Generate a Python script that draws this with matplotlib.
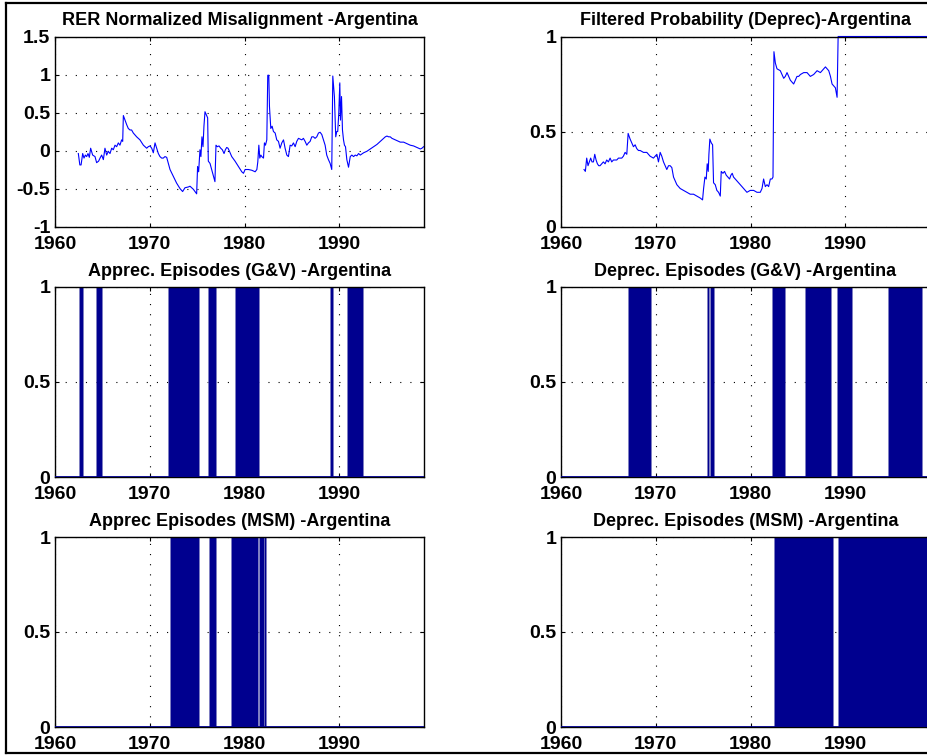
import matplotlib
matplotlib.use("Agg")
import matplotlib.pyplot as plt
from matplotlib.lines import Line2D

plt.rcParams['font.family'] = ['Liberation Sans', 'DejaVu Sans']
plt.rcParams['axes.unicode_minus'] = False
plt.rcParams['lines.scale_dashes'] = False

# ---------------- data ----------------
rer_years = [1962.46, 1962.62, 1962.75, 1962.92, 1963.06, 1963.20, 1963.34, 1963.48, 1963.62, 1963.76,
             1963.97, 1964.22, 1964.39, 1964.60, 1964.75, 1964.92, 1965.10, 1965.27, 1965.45, 1965.62,
             1965.80, 1965.98, 1966.15, 1966.33, 1966.50, 1966.68, 1966.85, 1967.03, 1967.14, 1967.21,
             1967.38, 1967.56, 1967.73, 1967.91, 1968.08, 1968.26, 1968.61, 1968.96, 1969.32, 1969.67,
             1969.84, 1970.02, 1970.20, 1970.37, 1970.55, 1970.72, 1970.90, 1971.07, 1971.25, 1971.42,
             1971.60, 1971.78, 1971.95, 1972.13, 1972.48, 1972.83, 1973.18, 1973.46, 1973.71, 1974.06,
             1974.24, 1974.41, 1974.59, 1974.76, 1974.94, 1975.04, 1975.15, 1975.29, 1975.39, 1975.50,
             1975.61, 1975.71, 1975.82, 1976.00, 1976.10, 1976.17, 1976.35, 1976.52, 1976.70, 1976.87,
             1976.98, 1977.12, 1977.30, 1977.48, 1977.65, 1977.83, 1977.97, 1978.11, 1978.25, 1978.40,
             1978.64, 1978.99, 1979.35, 1979.70, 1979.88, 1980.05, 1980.40, 1980.76, 1981.11, 1981.29,
             1981.39, 1981.50, 1981.60, 1981.71, 1981.81, 1981.99, 1982.09, 1982.20, 1982.34, 1982.44,
             1982.55, 1982.62, 1982.76, 1982.90, 1983.04, 1983.22, 1983.39, 1983.57, 1983.74, 1983.92,
             1984.10, 1984.27, 1984.45, 1984.62, 1984.80, 1984.97, 1985.15, 1985.33, 1985.50, 1985.68,
             1985.85, 1986.03, 1986.20, 1986.38, 1986.56, 1986.73, 1986.91, 1987.08, 1987.26, 1987.43,
             1987.61, 1987.79, 1987.96, 1988.14, 1988.31, 1988.49, 1988.66, 1988.84, 1989.02, 1989.19,
             1989.30, 1989.47, 1989.61, 1989.72, 1989.82, 1989.93, 1990.04, 1990.11, 1990.22, 1990.32,
             1990.43, 1990.53, 1990.64, 1990.78, 1990.96, 1991.14, 1991.31, 1991.49, 1991.67, 1991.84,
             1992.02, 1992.20, 1992.55, 1992.90, 1993.25, 1993.60, 1993.96, 1994.31, 1994.66, 1994.84,
             1995.01, 1995.19, 1995.36, 1995.54, 1995.71, 1996.07, 1996.42, 1996.77, 1997.12, 1997.47,
             1997.82, 1998.18, 1998.53, 1998.70, 1998.88]
rer_values = [-0.04, -0.19, -0.19, -0.04, -0.10, -0.06, -0.08, -0.04, -0.09, 0.03,
              -0.06, -0.08, -0.16, -0.14, -0.10, -0.06, -0.12, 0.03, -0.06, -0.01,
              -0.04, 0.03, 0.01, 0.07, 0.05, 0.10, 0.07, 0.14, 0.12, 0.46,
              0.40, 0.34, 0.29, 0.27, 0.27, 0.23, 0.18, 0.14, 0.07, 0.03,
              0.05, 0.06, 0.03, -0.03, 0.10, 0.03, -0.04, -0.08, -0.10, -0.10,
              -0.08, -0.09, -0.17, -0.25, -0.34, -0.43, -0.50, -0.54, -0.49, -0.48,
              -0.47, -0.49, -0.51, -0.54, -0.57, -0.21, -0.28, 0.01, -0.08, 0.18,
              0.05, 0.32, 0.51, 0.46, 0.43, -0.14, -0.17, -0.25, -0.34, -0.41,
              0.07, 0.05, 0.06, 0.03, 0.01, -0.04, 0.01, 0.04, 0.03, -0.01,
              -0.08, -0.14, -0.21, -0.28, -0.30, -0.25, -0.25, -0.26, -0.28, -0.25,
              -0.15, 0.07, -0.10, -0.06, -0.08, -0.10, 0.10, 0.07, 0.14, 0.99,
              0.99, 0.58, 0.29, 0.32, 0.25, 0.23, 0.14, 0.12, 0.03, 0.10,
              0.14, 0.03, -0.06, -0.08, 0.07, 0.06, 0.10, 0.05, 0.12, 0.16,
              0.15, 0.14, 0.16, 0.12, 0.07, 0.10, 0.12, 0.18, 0.18, 0.16,
              0.18, 0.23, 0.24, 0.21, 0.14, 0.07, -0.06, -0.12, -0.17, -0.25,
              0.98, 0.71, 0.18, 0.25, 0.25, 0.49, 0.89, 0.40, 0.71, 0.27,
              0.14, 0.07, 0.05, -0.12, -0.22, -0.08, -0.06, -0.08, -0.06, -0.07,
              -0.04, -0.06, -0.03, -0.01, 0.02, 0.05, 0.08, 0.12, 0.16, 0.18,
              0.19, 0.18, 0.18, 0.16, 0.15, 0.13, 0.11, 0.11, 0.09, 0.07,
              0.06, 0.04, 0.02, 0.03, 0.05]

prob_years = [1962.43, 1962.57, 1962.71, 1962.85, 1962.99, 1963.13, 1963.27, 1963.42, 1963.56, 1963.70,
              1963.84, 1963.98, 1964.12, 1964.30, 1964.47, 1964.65, 1964.82, 1965.00, 1965.18, 1965.35,
              1965.53, 1965.70, 1965.88, 1966.06, 1966.23, 1966.41, 1966.58, 1966.76, 1966.94, 1967.08,
              1967.29, 1967.46, 1967.64, 1967.82, 1967.99, 1968.17, 1968.35, 1968.70, 1969.05, 1969.40,
              1969.75, 1970.11, 1970.28, 1970.46, 1970.63, 1970.81, 1970.99, 1971.16, 1971.34, 1971.51,
              1971.69, 1971.87, 1972.22, 1972.57, 1972.92, 1973.27, 1973.63, 1973.98, 1974.33, 1974.68,
              1974.93, 1975.04, 1975.18, 1975.32, 1975.42, 1975.53, 1975.60, 1975.70, 1975.85, 1975.99,
              1976.09, 1976.27, 1976.44, 1976.62, 1976.80, 1976.90, 1977.08, 1977.25, 1977.43, 1977.61,
              1977.78, 1977.92, 1978.06, 1978.20, 1978.56, 1978.91, 1979.26, 1979.61, 1979.96, 1980.32,
              1980.67, 1981.02, 1981.20, 1981.37, 1981.55, 1981.73, 1981.90, 1982.08, 1982.25, 1982.36,
              1982.46, 1982.61, 1982.78, 1983.13, 1983.49, 1983.66, 1983.84, 1984.01, 1984.19, 1984.54,
              1984.72, 1984.89, 1985.07, 1985.25, 1985.60, 1985.95, 1986.30, 1986.65, 1987.01, 1987.36,
              1987.71, 1987.89, 1988.06, 1988.24, 1988.42, 1988.59, 1988.77, 1988.94, 1989.12, 1989.23,
              1990.00, 1992.00, 1994.00, 1996.00, 1998.92]
prob_values = [0.30, 0.29, 0.36, 0.32, 0.34, 0.36, 0.34, 0.34, 0.38, 0.35,
               0.33, 0.32, 0.32, 0.33, 0.34, 0.33, 0.35, 0.34, 0.36, 0.34,
               0.35, 0.35, 0.35, 0.36, 0.36, 0.36, 0.37, 0.39, 0.38, 0.49,
               0.46, 0.44, 0.42, 0.43, 0.41, 0.40, 0.40, 0.39, 0.39, 0.37,
               0.36, 0.38, 0.34, 0.39, 0.37, 0.34, 0.32, 0.30, 0.32, 0.32,
               0.31, 0.26, 0.22, 0.20, 0.19, 0.18, 0.17, 0.17, 0.16, 0.15,
               0.14, 0.20, 0.26, 0.25, 0.33, 0.29, 0.38, 0.46, 0.44, 0.43,
               0.23, 0.22, 0.19, 0.18, 0.16, 0.29, 0.28, 0.29, 0.27, 0.26,
               0.25, 0.27, 0.28, 0.26, 0.24, 0.22, 0.20, 0.18, 0.19, 0.19,
               0.18, 0.18, 0.20, 0.25, 0.21, 0.22, 0.21, 0.25, 0.25, 0.26,
               0.92, 0.86, 0.83, 0.82, 0.78, 0.79, 0.81, 0.79, 0.77, 0.75,
               0.77, 0.79, 0.79, 0.80, 0.81, 0.81, 0.79, 0.80, 0.82, 0.81,
               0.83, 0.84, 0.83, 0.82, 0.79, 0.75, 0.74, 0.73, 0.68, 1.00,
               1.00, 1.00, 1.00, 1.00, 1.00]

apprec_gv_start = [1962.50, 1964.32, 1971.88, 1976.13, 1979.02, 1988.99, 1990.83]
apprec_gv_end = [1962.92, 1964.99, 1975.22, 1976.94, 1981.48, 1989.28, 1992.51]
deprec_gv_start = [1967.04, 1975.35, 1975.70, 1982.25, 1985.77, 1989.15, 1994.51]
deprec_gv_end = [1969.51, 1975.62, 1976.13, 1983.63, 1988.49, 1990.67, 1998.10]
apprec_msm_start = [1972.16, 1976.20, 1978.56, 1981.50, 1982.07]
apprec_msm_end = [1975.22, 1976.94, 1981.44, 1982.00, 1982.28]
deprec_msm_start = [1982.46, 1989.23]
deprec_msm_end = [1988.66, 1998.92]

titles = ["RER Normalized Misalignment -Argentina", "Filtered Probability (Deprec)-Argentina",
          "Apprec. Episodes (G&V) -Argentina", "Deprec. Episodes (G&V) -Argentina",
          "Apprec Episodes (MSM) -Argentina", "Deprec. Episodes (MSM) -Argentina"]
xticks = [1960, 1970, 1980, 1990]
xtick_labels = ["1960", "1970", "1980", "1990"]
rer_yticks = [-1, -0.5, 0, 0.5, 1, 1.5]
rer_ytick_labels = ["-1", "-0.5", "0", "0.5", "1", "1.5"]
unit_yticks = [0, 0.5, 1]
unit_ytick_labels = ["0", "0.5", "1"]
XMIN, XMAX = 1960, 1998.92

# ---------------- figure ----------------
W, H = 928, 756
fig = plt.figure(figsize=(W / 100, H / 100), dpi=100)
fig.patch.set_facecolor('white')

NAVY = '#00008F'
BLUE = '#0000FF'


def px_axes(x0, y0, x1, y1):
    return fig.add_axes([x0 / W, 1 - y1 / H, (x1 - x0) / W, (y1 - y0) / H])


cols = [(55, 424), (561, 930)]
rows = [(36.5, 226.5), (287, 477), (537, 727)]

axes = []
for r in rows:
    for c in cols:
        axes.append(px_axes(c[0], r[0], c[1], r[1]))


def style(ax, title, yticks, ylabels, ylim):
    ax.set_xlim(XMIN, XMAX)
    ax.set_ylim(*ylim)
    ax.set_xticks(xticks)
    ax.set_xticklabels(xtick_labels)
    ax.set_yticks(yticks)
    ax.set_yticklabels(ylabels)
    ax.tick_params(direction='in', length=3, width=0.8, top=True, right=True,
                   labelsize=14, colors='black')
    ax.tick_params(axis='x', pad=6.5)
    ax.tick_params(axis='y', pad=3.5)
    for lab in ax.get_xticklabels() + ax.get_yticklabels():
        lab.set_fontweight('bold')
    for s in ax.spines.values():
        s.set_linewidth(1.0)
        s.set_color('black')
    ax.grid(True, color='black', linewidth=0.8, linestyle=(0, (0.8, 6.5)))
    ax.set_axisbelow(True)
    ax.set_title(title, fontsize=13, fontweight='bold', pad=8)


# Row 1
style(axes[0], titles[0], rer_yticks, rer_ytick_labels, (-1, 1.5))
axes[0].plot(rer_years, rer_values, color=BLUE, linewidth=0.8)
style(axes[1], titles[1], unit_yticks, unit_ytick_labels, (0, 1))
axes[1].plot(prob_years, prob_values, color=BLUE, linewidth=0.8, clip_on=False)

episodes = [(apprec_gv_start, apprec_gv_end), (deprec_gv_start, deprec_gv_end),
            (apprec_msm_start, apprec_msm_end), (deprec_msm_start, deprec_msm_end)]
for ax, title, (st, en) in zip(axes[2:], titles[2:], episodes):
    style(ax, title, unit_yticks, unit_ytick_labels, (0, 1))
    widths = [e - s for s, e in zip(st, en)]
    ax.bar(st, [1] * len(st), width=widths, align='edge', color=NAVY,
           edgecolor='#8080C0', linewidth=0.4, zorder=2)
    ax.axhline(0, color=NAVY, linewidth=2.0, zorder=3)

# outer frame of the original figure
for xs, ys in [((6.5, 6.5), (2.5, 752.5)), ((6.5, 928), (2.5, 2.5)), ((6.5, 928), (752.5, 752.5))]:
    fig.add_artist(Line2D([x / W for x in xs], [1 - y / H for y in ys],
                          transform=fig.transFigure, color='black', linewidth=1.6))

fig.savefig('out.png', dpi=100, facecolor='white')
